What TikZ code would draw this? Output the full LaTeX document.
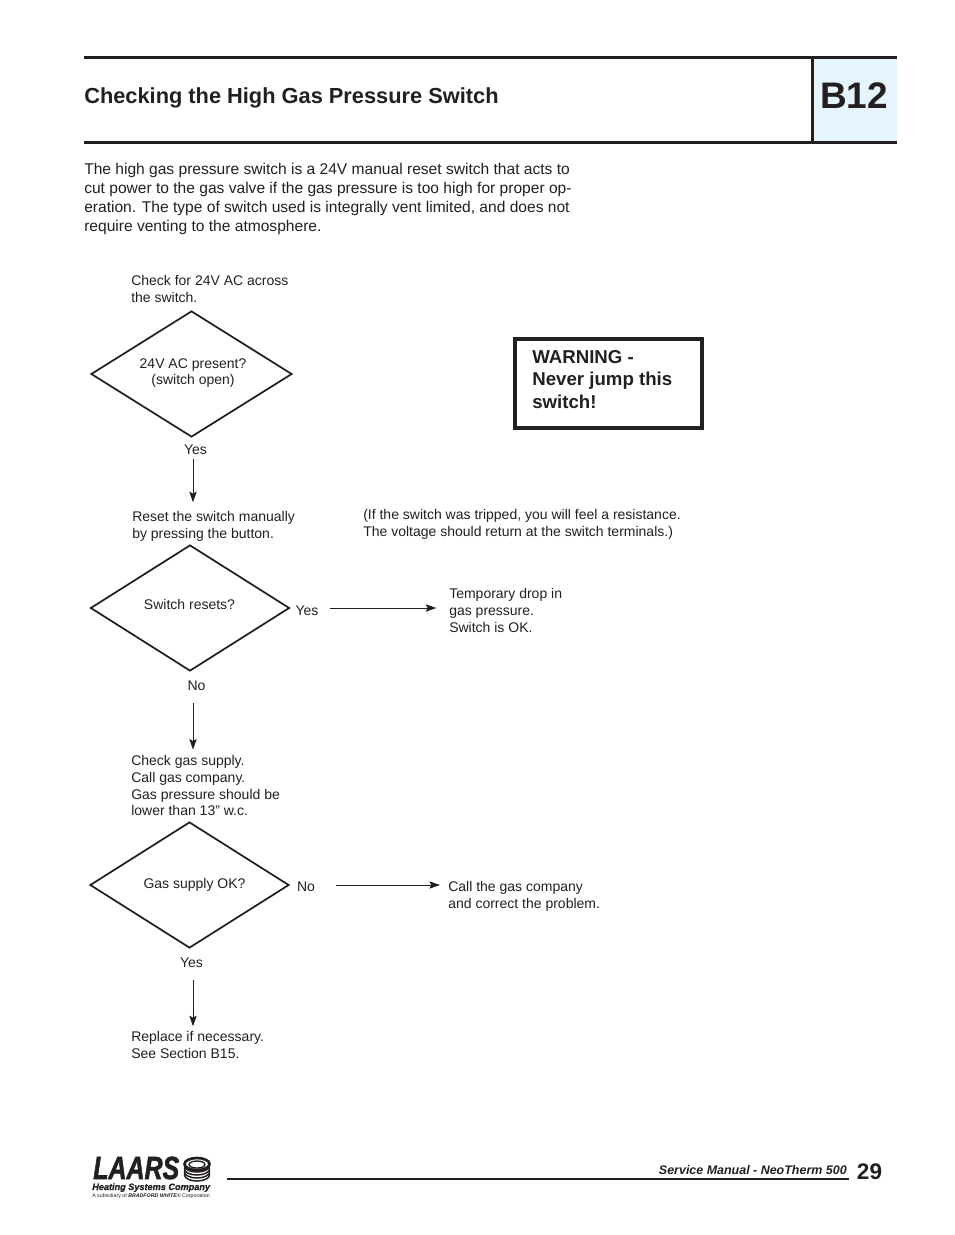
\documentclass[tikz,border=0pt]{standalone}
\usepackage{fontspec}
\setmainfont{Liberation Sans}
\usetikzlibrary{arrows.meta,shapes.geometric}
\definecolor{inkblack}{HTML}{231F20}
\definecolor{tabblue}{HTML}{E6F5FD}
\tikzset{
	textlabel/.style={anchor=north west, align=left, inner sep=0pt, text=inkblack,
		font=\fontsize{10.5}{12.6}\selectfont},
	answer/.style={inner sep=0pt, text=inkblack, font=\fontsize{10.5}{12.6}\selectfont},
	bodytext/.style={textlabel, font=\fontsize{11.68}{14.25}\selectfont},
	decision/.style={diamond, draw=inkblack, line width=1.3pt, inner sep=0pt},
	flow/.style={draw=inkblack, line width=0.7pt, -{Stealth[length=8pt,width=5.5pt,inset=1.5pt]}},
	rulebar/.style={draw=inkblack, line width=2.25pt},
}
\begin{document}
\begin{tikzpicture}[x=0.75pt, y=-0.75pt]
	\useasboundingbox (0,0) rectangle (954,1235);
	% header
	\fill[tabblue] (812,58) rectangle (897,142);
	\draw[rulebar] (84,57.5)--(897,57.5);
	\draw[rulebar] (84,142.5)--(897,142.5);
	\draw[rulebar] (812.5,57.5)--(812.5,142.5);
	\node[anchor=west, inner sep=0pt, text=inkblack, font=\fontsize{16.35}{20}\selectfont\bfseries] (title) at (84,98) {Checking the High Gas Pressure Switch};
	\node[inner sep=0pt, text=inkblack, font=\fontsize{27.7}{30}\selectfont\bfseries] (tabname) at (854,95.5) {B12};
	\node[bodytext] (intro) at (84,163) {The high gas pressure switch is a 24V manual reset switch that acts to\\
		cut power to the gas valve if the gas pressure is too high for proper op-\\
		eration.  The type of switch used is integrally vent limited, and does not\\
		require venting to the atmosphere.};
	% warning box
	\node[draw=inkblack, line width=3pt, anchor=north west, minimum width=140pt, minimum height=66.75pt, inner sep=0pt] (warnbox) at (513,337) {};
	\node[textlabel, font=\fontsize{14}{16.9}\selectfont\bfseries] (warntext) at (532,350) {WARNING -\\Never jump this\\switch!};
	% first check
	\coordinate (spine) at (193,0);
	\node[textlabel] (checkac) at (131,275) {Check for 24V AC across\\the switch.};
	\node[decision, minimum width=150.75pt, minimum height=94.5pt] (diaa) at (191.5,374) {};
	\node[answer, align=center] (acq) at (193,373) {24V AC present?\\(switch open)};
	\node[answer] (yesa) at (195.5,449.5) {Yes};
	\node[textlabel] (reset) at (132,511) {Reset the switch manually\\by pressing the button.};
	\node[textlabel] (tripped) at (363,509) {(If the switch was tripped, you will feel a resistance.\\The voltage should return at the switch terminals.)};
	\draw[flow, shorten <=3pt, shorten >=6.5pt] (yesa.south -| spine)--(spine |- reset.north);
	% second check
	\node[decision, minimum width=149.25pt, minimum height=94.5pt] (diab) at (190,608) {};
	\node[answer] (resetq) at (189.5,604) {Switch resets?};
	\node[answer] (yesb) at (307,610.5) {Yes};
	\node[answer] (nob) at (196.5,685.5) {No};
	\node[textlabel] (tempdrop) at (449,588) {Temporary drop in\\gas pressure.\\Switch is OK.};
	\draw[flow, shorten <=8.5pt, shorten >=9.5pt] (yesb.east |- diab.east)--(tempdrop.west |- diab.east);
	\node[textlabel] (supply) at (131,755) {Check gas supply.\\Call gas company.\\Gas pressure should be\\lower than 13” w.c.};
	\draw[flow, shorten <=9.5pt, shorten >=4pt] (nob.south -| spine)--(spine |- supply.north);
	% third check
	\node[decision, minimum width=149.25pt, minimum height=94.5pt] (diac) at (189.5,885) {};
	\node[answer] (gasq) at (194.5,885) {Gas supply OK?};
	\node[answer] (noc) at (306,886.5) {No};
	\node[answer] (yesc) at (191.5,962.5) {Yes};
	\node[textlabel] (callco) at (448,881) {Call the gas company\\and correct the problem.};
	\draw[flow, shorten <=15.5pt, shorten >=6pt] (noc.east |- diac.east)--(callco.west |- diac.east);
	\node[textlabel] (replace) at (131,1031) {Replace if necessary.\\See Section B15.};
	\draw[flow, shorten <=9.5pt, shorten >=3.5pt] (yesc.south -| spine)--(spine |- replace.north);
	% footer
	\draw[draw=inkblack, line width=1.6pt] (227,1179)--(849,1179);
	\node[anchor=base east, inner sep=0pt, text=inkblack, font=\fontsize{9.35}{11}\selectfont\bfseries\itshape] (manual) at (847,1174) {Service Manual - NeoTherm 500};
	\node[anchor=base, inner sep=0pt, text=inkblack, font=\fontsize{16.9}{20}\selectfont\bfseries] (pageno) at (869.5,1179) {29};
	% logo
	\node[anchor=base west, inner sep=0pt, text=inkblack, font=\fontsize{24}{24}\selectfont\bfseries\itshape] (logoname) at (93,1179) {\addfontfeature{FakeBold=2}\scalebox{.78}[1]{LAARS}};
	\foreach \yy in {1175,1172,1169,1166}
		\draw[fill=white, draw=inkblack, line width=1.1pt] (197,\yy) ellipse (12.5 and 6);
	\draw[fill=white, draw=inkblack, line width=2pt] (197,1164) ellipse (12.5 and 6);
	\draw[draw=inkblack, line width=1pt] (197,1164.5) ellipse (8 and 3.5);
	\node[anchor=base west, inner sep=0pt, text=inkblack, font=\fontsize{6.85}{7}\selectfont\bfseries\itshape] (logosub) at (92,1190) {\addfontfeature{FakeBold=1}Heating Systems Company};
	\node[anchor=base west, inner sep=0pt, text=inkblack, font=\fontsize{3.95}{5}\selectfont] (logoparent) at (92,1197) {A subsidiary of {\bfseries\itshape BRADFORD WHITE}® Corporation};
\end{tikzpicture}
\end{document}
